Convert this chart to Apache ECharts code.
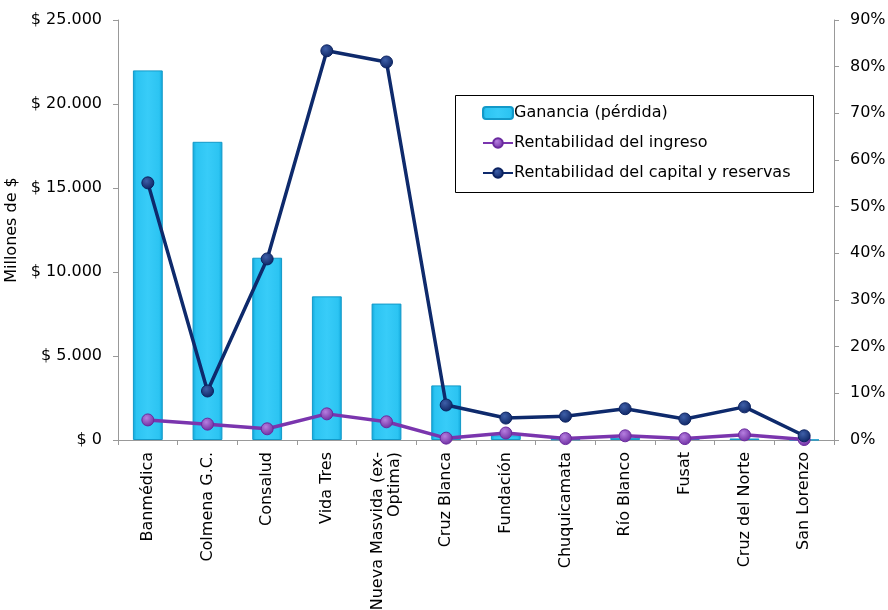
<!DOCTYPE html>
<html>
<head>
<meta charset="utf-8">
<script src="https://cdn.jsdelivr.net/npm/echarts@6/dist/echarts.min.js"></script>
<style>
html, body { margin: 0; padding: 0; background: #fff; }
#chart { width: 888px; height: 610px; }
</style>
</head>
<body>
<div id="chart"></div>
<script>
// categorías (isapres)
var categorias = ['Banmédica', 'Colmena G.C.', 'Consalud', 'Vida Tres', 'Nueva Masvida (ex-\nOptima)',
	'Cruz Blanca', 'Fundación', 'Chuquicamata', 'Río Blanco', 'Fusat', 'Cruz del Norte', 'San Lorenzo'];
// ganancia en millones de $
var ganancia = [22000, 17750, 10850, 8550, 8120, 3250, 280, 40, 130, 60, 90, 10];
// rentabilidad en %
var rentIngreso = [4.3, 3.4, 2.4, 5.6, 3.9, 0.4, 1.5, 0.3, 0.9, 0.3, 1.1, 0.1];
var rentCapital = [55.1, 10.5, 38.8, 83.4, 81.0, 7.5, 4.7, 5.1, 6.7, 4.5, 7.1, 0.9];
var ticksIzq = [0, 5000, 10000, 15000, 20000, 25000];
var ticksDer = [0, 10, 20, 30, 40, 50, 60, 70, 80, 90];

var fuente = 'Verdana, "DejaVu Sans", sans-serif';

function miles(v) {
	return '$ ' + String(v).replace(/\B(?=(\d{3})+(?!\d))/g, '.');
}

var chart = echarts.init(document.getElementById('chart'));
var option = {
	animation: false,
	textStyle: { fontFamily: fuente },
	grid: { left: 118, right: 54, top: 20, bottom: 170, containLabel: false, outerBoundsMode: 'none' },
	// marco de la leyenda
	graphic: [{
		type: 'rect',
		shape: { x: 455.5, y: 95.5, width: 358, height: 97 },
		style: { fill: '#fff', stroke: '#000', lineWidth: 1 },
		z: 0
	}],
	legend: {
		orient: 'vertical',
		left: 482, top: 95,
		padding: [10, 0, 0, 0],
		itemGap: 14,
		itemWidth: 30, itemHeight: 12,
		z: 10,
		textStyle: { fontFamily: fuente, fontSize: 16, lineHeight: 16, color: '#000', padding: [0, 0, 0, -4] },
		data: ['Ganancia (pérdida)', 'Rentabilidad del ingreso', 'Rentabilidad del capital y reservas']
	},
	xAxis: {
		type: 'category',
		data: categorias,
		axisLine: { lineStyle: { color: '#999' } },
		axisTick: { show: true, length: 5, lineStyle: { color: '#999' } },
		axisLabel: {
			rotate: 90, interval: 0, margin: 12,
			fontFamily: fuente, fontSize: 16, color: '#000', lineHeight: 17, align: 'right'
		}
	},
	yAxis: [{
		type: 'value',
		min: ticksIzq[0], max: ticksIzq[ticksIzq.length - 1], interval: 5000,
		name: 'Millones de $',
		nameLocation: 'middle', nameGap: 95, nameRotate: 90,
		nameTextStyle: { fontFamily: fuente, fontSize: 16, color: '#000' },
		axisLine: { show: true, lineStyle: { color: '#999' } },
		axisTick: { show: true, length: 5, lineStyle: { color: '#999' } },
		splitLine: { show: false },
		axisLabel: { fontFamily: fuente, fontSize: 16, color: '#000', margin: 16, formatter: miles }
	}, {
		type: 'value',
		min: ticksDer[0], max: ticksDer[ticksDer.length - 1], interval: 10,
		axisLine: { show: true, lineStyle: { color: '#999' } },
		axisTick: { show: true, length: 5, lineStyle: { color: '#999' } },
		splitLine: { show: false },
		axisLabel: { fontFamily: fuente, fontSize: 16, color: '#000', margin: 16, formatter: '{value}%' }
	}],
	series: [{
		name: 'Ganancia (pérdida)',
		type: 'bar',
		data: ganancia,
		barWidth: '50%',
		itemStyle: {
			color: new echarts.graphic.LinearGradient(0, 0, 1, 0, [
				{ offset: 0, color: '#0FA6DA' },
				{ offset: 0.12, color: '#2CC4F2' },
				{ offset: 0.5, color: '#38CCF8' },
				{ offset: 0.88, color: '#2CC4F2' },
				{ offset: 1, color: '#0FA6DA' }
			]),
			borderColor: '#1399C8', borderWidth: 1
		}
	}, {
		name: 'Rentabilidad del ingreso',
		type: 'line',
		yAxisIndex: 1,
		data: rentIngreso,
		symbol: 'circle', symbolSize: 12,
		lineStyle: { color: '#7A35AE', width: 3.5 },
		itemStyle: {
			color: new echarts.graphic.RadialGradient(0.4, 0.35, 0.7, [
				{ offset: 0, color: '#B67FE0' },
				{ offset: 1, color: '#6A2A9E' }
			]),
			borderColor: '#6A2A9E', borderWidth: 1
		}
	}, {
		name: 'Rentabilidad del capital y reservas',
		type: 'line',
		yAxisIndex: 1,
		data: rentCapital,
		symbol: 'circle', symbolSize: 12,
		lineStyle: { color: '#0E2A6C', width: 3.5 },
		itemStyle: {
			color: new echarts.graphic.RadialGradient(0.4, 0.35, 0.7, [
				{ offset: 0, color: '#3E5FA8' },
				{ offset: 1, color: '#0B2260' }
			]),
			borderColor: '#0B2260', borderWidth: 1
		}
	}]
};
chart.setOption(option);
</script>
</body>
</html>
